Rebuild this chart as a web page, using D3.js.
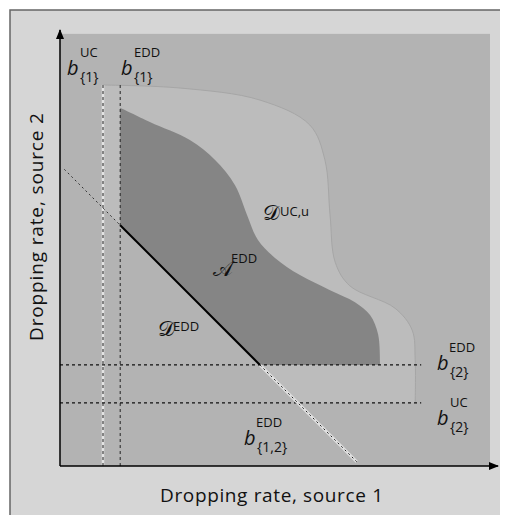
<!DOCTYPE html>
<html><head><meta charset="utf-8">
<script src="https://cdn.jsdelivr.net/npm/d3@7"></script>
<style>body{margin:0;background:#fff}svg{display:block}text{font-family:"Open Sans",sans-serif;fill:#111}</style>
</head><body><svg id="c" width="507" height="525"></svg>
<script>
// thresholds (data units)
const b1UC = 1.0, b1EDD = 1.4, b2EDD = 2.35, b2UC = 1.47, b12EDD = 7.0;
// boundary of A^EDD (upper-right curve)
const aEddX = [1.40, 2.09, 3.02, 3.60, 4.07, 4.35, 4.60, 5.00, 5.58, 6.28, 6.86, 7.21, 7.40, 7.44];
const aEddY = [8.33, 8.00, 7.58, 7.12, 6.53, 5.84, 5.26, 4.84, 4.44, 4.09, 3.81, 3.51, 3.05, 2.35];
// boundary of D^UC,u
const dUcX = [1.0, 2.79, 4.65, 5.81, 6.16, 6.28, 6.40, 6.74, 7.79, 8.19, 8.26, 8.26];
const dUcY = [8.86, 8.79, 8.51, 7.93, 7.12, 5.84, 4.74, 4.19, 3.67, 3.16, 2.47, 1.47];
const xLabel = "Dropping rate, source 1", yLabel = "Dropping rate, source 2";

const svg = d3.select("#c");
const x = d3.scaleLinear().domain([0, 10]).range([60, 490]);
const y = d3.scaleLinear().domain([0, 10]).range([466, 36]);

// frame
svg.append("rect").attr("x",10).attr("y",10).attr("width",490).attr("height",505).attr("fill","#d6d6d6");
svg.append("path").attr("d","M10,515V10H500").attr("fill","none").attr("stroke","#666").attr("stroke-width",1.5);
// plot background
svg.append("rect").attr("x",x(0)).attr("y",y(10.05)).attr("width",x(10)-x(0)).attr("height",y(0)-y(10.05)).attr("fill","#b3b3b3");

const line = d3.line().x(d=>x(d[0])).y(d=>y(d[1]));
// D^UC,u region
const dPts = dUcX.map((v,i)=>[v,dUcY[i]]);
const dCurve = d3.line().x(d=>x(d[0])).y(d=>y(d[1])).curve(d3.curveCatmullRom)(dPts);
const dPath = dCurve + "L" + x(b12EDD-b2UC) + "," + y(b2UC) + "L" + x(b1UC) + "," + y(b12EDD-b1UC) + "Z";
svg.append("path").attr("d",dPath).attr("fill","#bcbcbc");
svg.append("path").attr("d",dCurve).attr("fill","none").attr("stroke","#a6a6a6").attr("stroke-width",1);

// A^EDD region
const aPts = aEddX.map((v,i)=>[v,aEddY[i]]);
const aCurve = d3.line().x(d=>x(d[0])).y(d=>y(d[1])).curve(d3.curveCatmullRom)(aPts);
const aPath = aCurve + "L" + x(b12EDD-b2EDD) + "," + y(b2EDD) + "L" + x(b1EDD) + "," + y(b12EDD-b1EDD) + "Z";
svg.append("path").attr("d",aPath).attr("fill","#858585");

// dashed threshold lines
const vTop = 8.86;
svg.append("line").attr("x1",x(b1UC)).attr("x2",x(b1UC)).attr("y1",y(vTop)).attr("y2",y(0)).attr("stroke","#e4e4e4").attr("stroke-width",2.5);
[b1UC, b1EDD].forEach(v=>{
  svg.append("line").attr("x1",x(v)).attr("x2",x(v)).attr("y1",y(vTop)).attr("y2",y(0))
    .attr("stroke","#222").attr("stroke-width",1).attr("stroke-dasharray","3,3");
});
[b2EDD,b2UC].forEach(v=>{
  svg.append("line").attr("x1",x(0)).attr("x2",x(8.4)).attr("y1",y(v)).attr("y2",y(v))
    .attr("stroke","#111").attr("stroke-width",1.2).attr("stroke-dasharray","3,3");
});
// diagonal b{1,2}
svg.append("path").attr("d",line([[b12EDD-b2EDD,b2EDD],[b12EDD-0.1,0.1]])).attr("stroke","#e0e0e0").attr("stroke-width",3).attr("fill","none");
svg.append("path").attr("d",line([[0.1,b12EDD-0.1],[b1EDD,b12EDD-b1EDD]])).attr("stroke","#333").attr("stroke-width",1).attr("stroke-dasharray","2,3").attr("fill","none");
svg.append("path").attr("d",line([[b12EDD-b2EDD,b2EDD],[b12EDD-0.1,0.1]])).attr("stroke","#222").attr("stroke-width",1).attr("stroke-dasharray","2,3").attr("fill","none");
svg.append("path").attr("d",line([[b1EDD,b12EDD-b1EDD],[b12EDD-b2EDD,b2EDD]])).attr("stroke","#000").attr("stroke-width",2).attr("fill","none");

// axes
svg.append("defs").append("marker").attr("id","ar").attr("viewBox","0 0 10 10").attr("refX",9).attr("refY",5)
  .attr("markerWidth",10).attr("markerHeight",10).attr("markerUnits","userSpaceOnUse").attr("orient","auto")
  .append("path").attr("d","M0,1L10,5L0,9Z").attr("fill","#000");
svg.append("line").attr("x1",x(0)).attr("y1",y(0)).attr("x2",x(0)).attr("y2",30).attr("stroke","#000").attr("stroke-width",1.5).attr("marker-end","url(#ar)");
svg.append("line").attr("x1",x(0)).attr("y1",y(0)).attr("x2",498).attr("y2",y(0)).attr("stroke","#000").attr("stroke-width",1.5).attr("marker-end","url(#ar)");

svg.append("text").attr("x",160).attr("y",502).attr("font-size",19)
  .attr("textLength",223).attr("lengthAdjust","spacing").text(xLabel);
svg.append("text").attr("transform","translate(43,341) rotate(-90)").attr("font-size",19)
  .attr("textLength",228).attr("lengthAdjust","spacing").text(yLabel);

// b labels: (x of b, baseline of b)
function bLabel(px, py, sup, sub, supDx){
  svg.append("text").attr("x",px+supDx).attr("y",py-18).attr("font-size",13).text(sup);
  svg.append("text").attr("x",px).attr("y",py).attr("font-size",20).attr("font-style","italic").text("b");
  svg.append("text").attr("x",px+13).attr("y",py+7).attr("font-size",14).text(sub);
}
bLabel(67, 75, "UC", "{1}", 13);
bLabel(121, 75, "EDD", "{1}", 13);
bLabel(437, 370, "EDD", "{2}", 12);
bLabel(437, 425, "UC", "{2}", 13);
bLabel(244, 445, "EDD", "{1,2}", 12);

function regionLabel(px, py, letter, sup, dx, dy){
  svg.append("text").attr("x",px).attr("y",py).attr("font-size",21).attr("font-family","'DejaVu Serif',serif").text(letter);
  svg.append("text").attr("x",px+dx).attr("y",py-dy).attr("font-size",13).text(sup);
}
regionLabel(263, 220, "𝒟", "UC,u", 17, 4);
regionLabel(213, 276, "𝒜", "EDD", 18, 13);
regionLabel(158, 336, "𝒟", "EDD", 15, 5);
</script></body></html>
